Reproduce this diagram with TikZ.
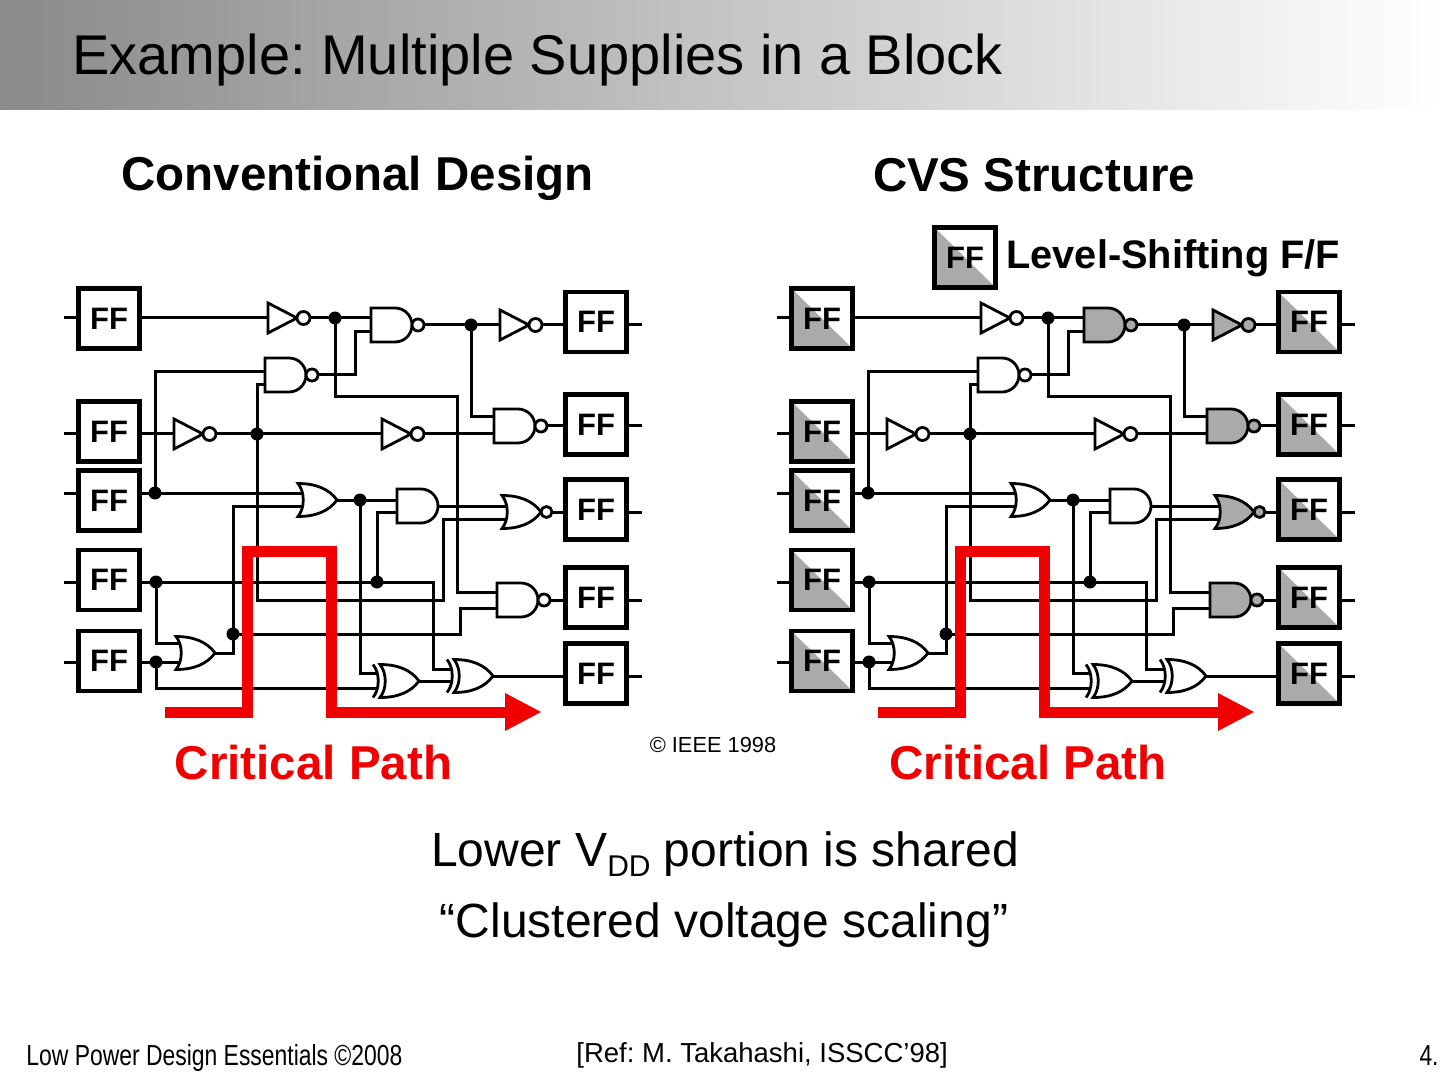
\documentclass[tikz,border=0pt]{standalone}
\usepackage{fontspec}
\setmainfont{Liberation Sans}
\newfontfamily\narrowfont[FakeStretch=0.79]{Liberation Sans}
\frenchspacing
\definecolor{hdr}{RGB}{138,138,138}
\definecolor{gfill}{RGB}{170,170,170}
\definecolor{cpred}{RGB}{240,0,0}
\tikzset{
 wire/.style={line width=1.5pt},
 gateline/.style={line width=1.4pt},
 jdot/.style={circle, fill=black, inner sep=0pt, minimum size=6.5pt},
 ffplain/.style={draw, line width=2.4pt, minimum width=30.5pt, minimum height=30pt, inner sep=0pt, fill=white, font=\fontsize{15.5}{15.5}\selectfont\bfseries},
 ffshade/.style={ffplain, path picture={\fill[gfill] (path picture bounding box.north west) -- (path picture bounding box.south west) -- (path picture bounding box.south east) -- cycle;}},
 critpath/.style={line width=5.5pt, draw=cpred, line join=miter},
 pics/andg/.style={code={\draw[gateline,fill=#1] (0,-17) -- (24,-17) .. controls (33.4,-17) and (41,-9.4) .. (41,0) .. controls (41,9.4) and (33.4,17) .. (24,17) -- (0,17) -- cycle;}},
 pics/andg/.default=white,
 pics/nandg/.style={code={\draw[gateline,fill=#1] (0,-17) -- (24,-17) .. controls (33.4,-17) and (41,-9.4) .. (41,0) .. controls (41,9.4) and (33.4,17) .. (24,17) -- (0,17) -- cycle;
   \draw[gateline,fill=#1] (47,0) circle[radius=3pt];}},
 pics/nandg/.default=white,
 pics/org/.style={code={\draw[gateline,fill=#1] (0,-16.5) .. controls (18,-16.5) and (31,-11) .. (39,0) .. controls (31,11) and (18,16.5) .. (0,16.5) .. controls (7,8) and (7,-8) .. (0,-16.5) -- cycle;}},
 pics/org/.default=white,
 pics/norg/.style={code={\draw[gateline,fill=#1] (0,-16.5) .. controls (18,-16.5) and (31,-11) .. (39,0) .. controls (31,11) and (18,16.5) .. (0,16.5) .. controls (7,8) and (7,-8) .. (0,-16.5) -- cycle;
   \draw[gateline,fill=#1] (44.5,0) circle[radius=2.75pt];}},
 pics/norg/.default=white,
 pics/xorg/.style={code={\draw[gateline,fill=#1] (0,-16.5) .. controls (18,-16.5) and (31,-11) .. (39,0) .. controls (31,11) and (18,16.5) .. (0,16.5) .. controls (7,8) and (7,-8) .. (0,-16.5) -- cycle;
   \draw[gateline] (-7,-16.5) .. controls (0,-8) and (0,8) .. (-7,16.5);}},
 pics/xorg/.default=white,
 pics/invg/.style={code={\draw[gateline,fill=#1] (0,-15) -- (29,0) -- (0,15) -- cycle;
   \draw[gateline,fill=#1] (35.5,0) circle[radius=3.25pt];}},
 pics/invg/.default=white,
}
\newcommand{\ckt}[2]{%
 \foreach \yy in {318,434,493,582,662} {\draw[wire] (64,\yy) -- (100,\yy);}
 \foreach \yy in {325,426,512,600,676} {\draw[wire] (600,\yy) -- (642,\yy);}
 % row 1
 \draw[wire] (100,318) -- (272,318);
 \draw[wire] (300,318) -- (380,318);
 \draw[wire] (410,325) -- (505,325);
 \draw[wire] (530,325) -- (600,325);
 \draw[wire] (312,375) -- (355,375) -- (355,332) -- (380,332);
 \draw[wire] (471,325) -- (471,417) -- (500,417);
 % row 2
 \draw[wire] (100,434) -- (178,434);
 \draw[wire] (205,434) -- (386,434);
 \draw[wire] (413,434) -- (500,434);
 \draw[wire] (257,434) -- (257,385) -- (272,385);
 \draw[wire] (155,493) -- (155,372) -- (272,372);
 \draw[wire] (335,318) -- (335,397) -- (457,397) -- (457,592) -- (503,592);
 \draw[wire] (535,426) -- (600,426);
 % row 3
 \draw[wire] (100,493) -- (306,493);
 \draw[wire] (330,500) -- (403,500);
 \draw[wire] (377,582) -- (377,512) -- (403,512);
 \draw[wire] (430,506) -- (508,506);
 \draw[wire] (257,434) -- (257,600) -- (443,600) -- (443,519) -- (508,519);
 \draw[wire] (540,512) -- (600,512);
 % rows 4 and 5
 \draw[wire] (100,582) -- (433,582) -- (433,669) -- (451,669);
 \draw[wire] (156,582) -- (156,643) -- (182,643);
 \draw[wire] (100,662) -- (182,662);
 \draw[wire] (156,662) -- (156,688) -- (377,688);
 \draw[wire] (208,653) -- (233,653) -- (233,506) -- (304,506);
 \draw[wire] (233,634) -- (460,634) -- (460,608) -- (503,608);
 \draw[wire] (360,500) -- (360,673) -- (377,673);
 \draw[wire] (412,681) -- (451,681);
 \draw[wire] (486,676) -- (600,676);
 \draw[wire] (540,600) -- (600,600);
 % gates
 \pic at (268,318) {invg};
 \pic at (265,375) {nandg};
 \pic at (371,325) {nandg=#1};
 \pic at (500,325) {invg=#1};
 \pic at (174,434) {invg};
 \pic at (382,434) {invg};
 \pic at (494,426) {nandg=#1};
 \pic at (298,500) {org};
 \pic at (397,506) {andg};
 \pic at (502,512) {norg=#1};
 \pic at (497,600) {nandg=#1};
 \pic at (176,653) {org};
 \pic at (380,681) {xorg};
 \pic at (454,676) {xorg};
 % junction dots
 \node[jdot] (j1) at (335,318) {};
 \node[jdot] (j2) at (471,325) {};
 \node[jdot] (j3) at (257,434) {};
 \node[jdot] (j4) at (155,493) {};
 \node[jdot] (j5) at (360,500) {};
 \node[jdot] (j6) at (156,582) {};
 \node[jdot] (j7) at (377,582) {};
 \node[jdot] (j8) at (233,634) {};
 \node[jdot] (j9) at (156,662) {};
 % flip-flops
 \node[#2] (L1) at (109,318.5) {FF};
 \node[#2] (L2) at (109,431.5) {FF};
 \node[#2] (L3) at (109,500.5) {FF};
 \node[#2] (L4) at (109,580) {FF};
 \node[#2] (L5) at (109,661) {FF};
 \node[#2] (R1) at (596,322) {FF};
 \node[#2] (R2) at (596,424.5) {FF};
 \node[#2] (R3) at (596,509.5) {FF};
 \node[#2] (R4) at (596,597.5) {FF};
 \node[#2] (R5) at (596,673.5) {FF};
 % critical path
 \draw[critpath] (165,712) -- (247,712) -- (247,551) -- (331,551) -- (331,712) -- (507,712);
 \fill[cpred] (505,693) -- (541,712) -- (505,731) -- cycle;
}
\begin{document}
\begin{tikzpicture}[x=0.5pt,y=-0.5pt]
\useasboundingbox (0,0) rectangle (1440,1080);
\fill[white] (0,0) rectangle (1440,1080);
\shade[left color=hdr, right color=white] (0,0) rectangle (1440,110);
\node[anchor=base west, inner sep=0pt, font=\fontsize{28}{28}\selectfont] (title) at (72,75) {Example: Multiple Supplies in a Block};

\node[anchor=base, inner sep=0pt, font=\fontsize{23.75}{24}\selectfont\bfseries] (h1) at (357.5,191) {Conventional Design};
\node[anchor=base, inner sep=0pt, font=\fontsize{23.75}{24}\selectfont\bfseries] (h2) at (1034,192) {CVS Structure};

\begin{scope}[name prefix=l-]
\ckt{white}{ffplain}
\end{scope}
\begin{scope}[xshift=356.5pt, name prefix=r-]
\ckt{gfill}{ffshade}
\end{scope}

\node[ffshade] (legff) at (965,257.5) {FF};
\node[anchor=base west, inner sep=0pt, font=\fontsize{19.9}{20}\selectfont\bfseries] (legtxt) at (1006,269) {Level-Shifting F/F};

\node[anchor=base, inner sep=0pt, text=cpred, font=\fontsize{23.75}{24}\selectfont\bfseries] (cp1) at (313.5,779) {Critical Path};
\node[anchor=base, inner sep=0pt, text=cpred, font=\fontsize{23.75}{24}\selectfont\bfseries] (cp2) at (1028,779) {Critical Path};
\node[anchor=base, inner sep=0pt, font=\fontsize{10.9}{11}\selectfont] (ieee) at (713,752) {© IEEE 1998};

\node[anchor=base, inner sep=0pt, font=\fontsize{24}{24}\selectfont] (l1) at (725,866) {Lower V\raisebox{-5pt}{\fontsize{15}{15}\selectfont DD} portion is shared};
\node[anchor=base, inner sep=0pt, font=\fontsize{24}{24}\selectfont] (l2) at (724,937) {“Clustered voltage scaling”};

\node[anchor=base west, inner sep=0pt, font=\fontsize{14.5}{14.5}\narrowfont] (foot) at (26,1065) {Low Power Design Essentials ©2008};
\node[anchor=base west, inner sep=0pt, font=\fontsize{13.75}{14}\selectfont] (ref) at (576,1062) {[Ref: M. Takahashi, ISSCC’98]};
\node[anchor=base east, inner sep=0pt, font=\fontsize{14.5}{14.5}\narrowfont] (pg) at (1439,1065) {4.};
\end{tikzpicture}
\end{document}
